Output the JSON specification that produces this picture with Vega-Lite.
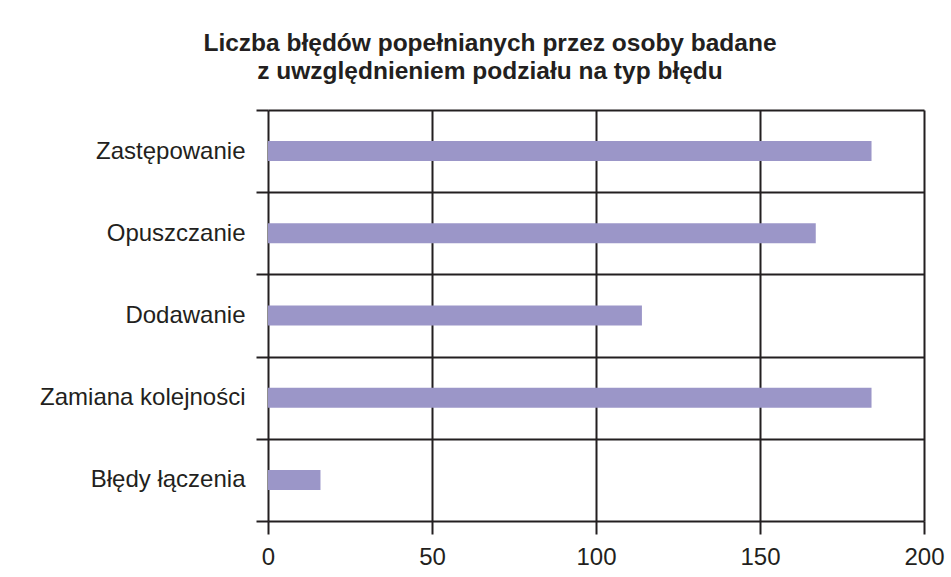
{
  "$schema": "https://vega.github.io/schema/vega-lite/v6.json",
  "autosize": "none",
  "padding": {"left": 268, "top": 110, "right": 27, "bottom": 56},
  "width": 656,
  "height": 411,
  "background": "white",
  "title": {
    "text": ["Liczba błędów popełnianych przez osoby badane", "z uwzględnieniem podziału na typ błędu"],
    "anchor": "middle",
    "frame": "group",
    "dx": -106,
    "offset": 14,
    "font": "Liberation Sans",
    "fontSize": 24.5,
    "fontWeight": "bold",
    "lineHeight": 28,
    "color": "#231f20"
  },
  "data": {
    "values": [
      {"typ": "Zastępowanie", "liczba": 184},
      {"typ": "Opuszczanie", "liczba": 167},
      {"typ": "Dodawanie", "liczba": 114},
      {"typ": "Zamiana kolejności", "liczba": 184},
      {"typ": "Błędy łączenia", "liczba": 16}
    ]
  },
  "mark": {"type": "bar", "color": "#9b96c8", "size": 20},
  "encoding": {
    "y": {
      "field": "typ",
      "type": "nominal",
      "sort": null,
      "title": null,
      "scale": {"paddingInner": 0, "paddingOuter": 0},
      "axis": {
        "tickBand": "extent",
        "grid": true,
        "gridColor": "#231f20",
        "gridWidth": 2,
        "gridOpacity": 1,
        "domain": false,
        "tickColor": "#231f20",
        "tickWidth": 2,
        "tickSize": 12,
        "labelPadding": 11,
        "labelLimit": 0,
        "labelFont": "Liberation Sans",
        "labelFontSize": 24,
        "labelColor": "#231f20"
      }
    },
    "x": {
      "field": "liczba",
      "type": "quantitative",
      "title": null,
      "scale": {"domain": [0, 200], "nice": false},
      "axis": {
        "values": [0, 50, 100, 150, 200],
        "grid": true,
        "gridColor": "#231f20",
        "gridWidth": 2,
        "gridOpacity": 1,
        "domain": false,
        "tickColor": "#231f20",
        "tickWidth": 2,
        "tickSize": 13,
        "labelPadding": 11,
        "labelFont": "Liberation Sans",
        "labelFontSize": 24,
        "labelColor": "#231f20",
        "labelFlush": false
      }
    }
  },
  "config": {"view": {"stroke": null}}
}
